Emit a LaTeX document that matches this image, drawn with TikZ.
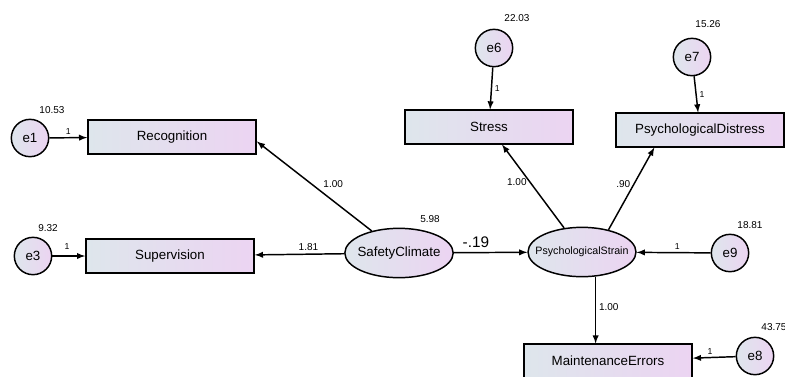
\documentclass[tikz,border=0pt]{standalone}
\usepackage{fontspec}
\setmainfont{Liberation Sans}
\usetikzlibrary{positioning,shapes.geometric}
\definecolor{leftfill}{RGB}{222,230,236}
\definecolor{rightfill}{RGB}{236,212,242}

\begin{document}
\begin{tikzpicture}[x=0.75pt, y=-0.75pt, >=latex,
observed/.style={rectangle, draw=black, line width=1.3pt, left color=leftfill, right color=rightfill, minimum width=126pt, minimum height=25pt, inner sep=2pt, font=\fontsize{10}{12}\selectfont},
latent/.style={ellipse, draw=black, line width=1.1pt, left color=leftfill, right color=rightfill, minimum width=81pt, minimum height=37pt, inner ysep=1pt, inner xsep=-2.4pt, font=\fontsize{10}{12}\selectfont},
error/.style={circle, draw=black, line width=1.1pt, left color=leftfill, right color=rightfill, minimum size=28pt, inner sep=0pt, font=\fontsize{10}{12}\selectfont},
out_arrow/.style={->, line width=1.1pt},
variance_text/.style={font=\fontsize{7.5}{9}\selectfont},
edge_text/.style={font=\fontsize{7.5}{9}\selectfont, inner sep=2pt},
one_text/.style={font=\fontsize{6.5}{8}\selectfont, inner sep=2pt}
]
\useasboundingbox (0,0) rectangle (785,376);

% \node[type](name_of_node) at (x,y) {node_text}
\node[observed](recognition) at (172,137) {Recognition};
\node[observed](supervision) at (170,256) {Supervision};
\node[observed](stress) at (489,127) {Stress};
\node[observed](distress) at (700,130) {PsychologicalDistress};
\node[observed](errors) at (608,361) {MaintenanceErrors};

\node[latent](climate) at (399,253) {SafetyClimate};
\node[latent, inner xsep=-6.4pt, font=\fontsize{8}{10}\selectfont](strain) at (582,252) {PsychologicalStrain};

\node[error](e1) at (30,138) {e1};
\node[error](e3) at (33,256) {e3};
\node[error](e6) at (494,48) {e6};
\node[error](e7) at (692,57) {e7};
\node[error](e9) at (730,253) {e9};
\node[error](e8) at (755,356) {e8};

% variances
\node[variance_text](var_e1) at (52,110) {10.53};
\node[variance_text](var_e3) at (48,228) {9.32};
\node[variance_text](var_climate) at (430,219) {5.98};
\node[variance_text](var_e6) at (517,18) {22.03};
\node[variance_text](var_e7) at (708,24) {15.26};
\node[variance_text](var_e9) at (750,225) {18.81};
\node[variance_text](var_e8) at (774,327) {43.75};

% \draw[->](name_of_node) to [] node[]{edge_text} (name_of_node)
\draw[out_arrow](e1) to [] node[one_text, above]{1} (recognition);
\draw[out_arrow](e3) to [] node[one_text, above, pos=0.45, yshift=2pt]{1} (supervision);
\draw[out_arrow](e6) to [] node[one_text, right]{1} (stress);
\draw[out_arrow](e7) to [] node[one_text, right]{1} (distress);
\draw[out_arrow](e9) to [] node[one_text, above, pos=0.45]{1} (strain);
\draw[out_arrow](e8) to [] node[one_text, above, pos=0.6]{1} (errors);

\draw[out_arrow](climate.141) to [] node[edge_text, above right, pos=0.45]{1.00} (recognition.-3);
\draw[out_arrow](climate) to [] node[edge_text, above, pos=0.4]{1.81} (supervision);
\draw[out_arrow](climate) to [] node[above, pos=0.3, font=\fontsize{11.5}{13}\selectfont]{-.19} (strain);

\draw[out_arrow](strain) to [] node[edge_text, left, pos=0.55]{1.00} (stress);
\draw[out_arrow](strain.40) to [] node[edge_text, left, pos=0.55]{.90} (distress.201);
\draw[out_arrow](strain.-61) to [] node[edge_text, right, pos=0.45]{1.00} (strain.-61 |- errors.north);
\end{tikzpicture}
\end{document}
